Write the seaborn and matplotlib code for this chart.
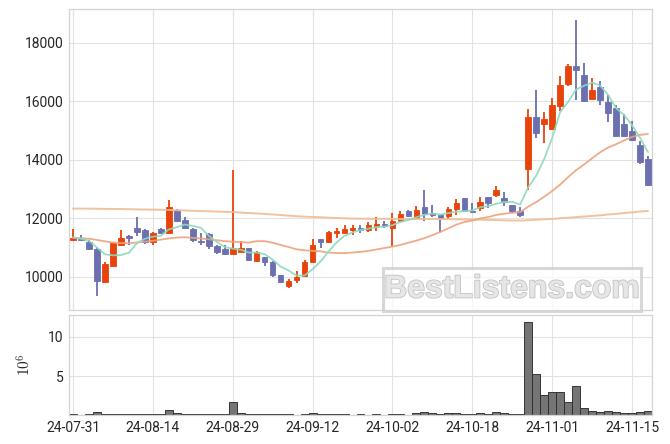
import numpy as np
import pandas as pd
import matplotlib
matplotlib.use("Agg")
import matplotlib.pyplot as plt
import matplotlib.patheffects as pe
from matplotlib.patches import Rectangle
import seaborn as sns

# ---------------- data ----------------
tick_labels = ['24-07-31', '24-08-14', '24-08-29', '24-09-12',
               '24-10-02', '24-10-18', '24-11-01', '24-11-15']

opens = [11250, 11300, 11180, 10960, 9810, 10370, 11080, 11390, 11660, 11600,
         11200, 11630, 11490, 12290, 11940, 11630, 11210, 11470, 11060, 10960,
         10770, 10850, 10980, 10530, 10670, 10510, 10050, 9700, 9890, 10010,
         10490, 11290, 11180, 11490, 11510, 11610, 11680, 11600, 11730, 11790,
         11660, 11920, 12250, 12010, 12400, 12190, 12130, 12070, 12300, 12690,
         12250, 12340, 12730, 12790, 12690, 12450, 12240, 13690, 15470, 15210,
         15040, 15830, 16580, 17190, 16900, 16090, 16500, 15980, 15780, 15240,
         14970, 14490, 14040]

closes = [11330, 11260, 10940, 9870, 10440, 11150, 11320, 11310, 11520, 11200,
          11500, 11480, 12400, 11890, 11660, 11250, 11180, 11040, 10840, 10770,
          10980, 10990, 10560, 10840, 10490, 10050, 9810, 9870, 9980, 10510,
          11100, 11180, 11530, 11550, 11640, 11680, 11590, 11770, 11790, 11740,
          11920, 12160, 12070, 12290, 12160, 12100, 12000, 12330, 12530, 12260,
          12210, 12560, 12510, 12950, 12540, 12250, 12100, 15470, 14920, 15380,
          15860, 16540, 17190, 17070, 16000, 16400, 16040, 15600, 14810, 14810,
          14660, 13910, 13130]

highs = [11650, 11440, 11250, 11000, 10510, 11190, 11600, 11420, 12040, 11640,
         11540, 11660, 12640, 12300, 12040, 11660, 11500, 11500, 11080, 11100,
         13660, 11230, 11000, 10870, 10690, 10530, 10070, 9930, 10200, 10560,
         11290, 11300, 11550, 11670, 11770, 11760, 11780, 11860, 12040, 11900,
         12180, 12240, 12270, 12410, 12980, 12470, 12150, 12390, 12650, 12700,
         12510, 12730, 12740, 13120, 12910, 12470, 12390, 15740, 16370, 15640,
         16120, 16880, 17280, 18780, 17300, 16800, 16700, 16210, 15890, 15570,
         15320, 14640, 14130]

lows = [11230, 11240, 10930, 9330, 9800, 10360, 11040, 11100, 11380, 11120,
        11090, 11460, 11470, 11870, 11620, 11190, 11100, 10950, 10780, 10730,
        10760, 10840, 10550, 10520, 10380, 9980, 9800, 9610, 9790, 10000,
        10480, 10990, 11170, 11330, 11480, 11440, 11500, 11530, 11560, 11670,
        11040, 11900, 12050, 11990, 11920, 12060, 11520, 11980, 12120, 12250,
        12170, 12260, 12350, 12740, 12430, 12170, 12050, 12960, 14730, 14580,
        15020, 15660, 16510, 16050, 15990, 16070, 15890, 15300, 14800, 14790,
        14640, 13840, 13120]

# volume in units of 10^6
volumes = [0.25, 0.12, 0.25, 0.44, 0.25, 0.25, 0.25, 0.25, 0.25, 0.25,
           0.25, 0.25, 0.70, 0.33, 0.25, 0.25, 0.25, 0.25, 0.25, 0.25,
           1.75, 0.33, 0.25, 0.25, 0.25, 0.25, 0.25, 0.25, 0.12, 0.25,
           0.33, 0.25, 0.25, 0.25, 0.25, 0.12, 0.25, 0.12, 0.25, 0.12,
           0.25, 0.25, 0.12, 0.33, 0.44, 0.33, 0.25, 0.33, 0.33, 0.25,
           0.25, 0.33, 0.25, 0.44, 0.33, 0.25, 0.25, 11.9, 5.26, 2.63,
           3.03, 3.03, 1.71, 3.82, 1.05, 0.66, 0.53, 0.66, 0.53, 0.39,
           0.39, 0.53, 0.66]

# moving-average values before a full window of closes is available
ma5_head = [11350, 11300, 11230, 11000]
ma20_head = [11330, 11320, 11300, 11260, 11210, 11170, 11150, 11150, 11170, 11200,
             11230, 11270, 11310, 11340, 11350, 11330, 11310, 11280, 11250]
# long moving average
ma_long = [12330, 12330, 12330, 12325, 12320, 12320, 12315, 12310, 12305, 12300,
           12295, 12290, 12285, 12275, 12265, 12255, 12245, 12240, 12230, 12220,
           12215, 12195, 12180, 12165, 12150, 12130, 12110, 12090, 12070, 12055,
           12045, 12035, 12020, 12010, 12000, 11990, 11985, 11985, 11980, 11980,
           11978, 11976, 11975, 11975, 11975, 11975, 11972, 11970, 11965, 11960,
           11955, 11950, 11945, 11940, 11930, 11925, 11920, 11935, 11950, 11965,
           11975, 12000, 12020, 12040, 12060, 12080, 12100, 12130, 12150, 12180,
           12200, 12230, 12250]

# ---------------- styling ----------------
UP = "#e8430a"
DOWN = "#6b70b0"
MA5_C = "#8ed9c0"
MA20_C = "#eda27c"
MALONG_C = "#f0bc94"
GRID = "#e2e2e2"
SPINE = "#d4d4d4"
TXT = "#262626"

sns.set_theme(style="whitegrid")
plt.rcParams['font.family'] = ['Roboto', 'DejaVu Sans']
plt.rcParams['mathtext.fontset'] = 'cm'

n = len(closes)
idx = np.arange(n)
o = np.array(opens, float)
c = np.array(closes, float)
h = np.array(highs, float)
l = np.array(lows, float)

cs = pd.Series(c)
ma5 = cs.rolling(5).mean().to_numpy()
ma5[:len(ma5_head)] = ma5_head
ma20 = cs.rolling(20).mean().to_numpy()
ma20[:len(ma20_head)] = ma20_head

df = pd.DataFrame({'i': idx, 'ma5': ma5, 'ma20': ma20, 'malong': ma_long,
                   'vol': volumes})

fig = plt.figure(figsize=(6.7, 4.44), dpi=100)
W, H = 670.0, 444.0
x0, x1 = 69, 652
ax = fig.add_axes([x0 / W, 1 - 310 / H, (x1 - x0) / W, (310 - 9) / H])
axv = fig.add_axes([x0 / W, 1 - 415 / H, (x1 - x0) / W, (415 - 315) / H])

# ---- candles ----
up = c >= o
colors = np.where(up, UP, DOWN)
ax.vlines(idx, l, h, colors=colors, linewidth=1.3, zorder=3)
body_bottom = np.minimum(o, c)
body_h = np.maximum(np.abs(c - o), 25)
ax.bar(idx, body_h, bottom=body_bottom, width=0.7, color=colors,
       edgecolor=colors, linewidth=0.6, zorder=4)

# ---- moving averages ----
sns.lineplot(data=df, x='i', y='malong', ax=ax, color=MALONG_C, linewidth=1.4,
             alpha=0.9, zorder=5)
sns.lineplot(data=df, x='i', y='ma20', ax=ax, color=MA20_C, linewidth=1.3,
             alpha=0.9, zorder=5)
sns.lineplot(data=df, x='i', y='ma5', ax=ax, color=MA5_C, linewidth=1.3,
             alpha=0.9, zorder=5)

# ---- volume ----
sns.barplot(data=df, x='i', y='vol', ax=axv, color="#6e6e6e", saturation=1,
            width=1.0, edgecolor="#2e2e2e", linewidth=0.7, alpha=0.95)

tick_pos = list(range(0, n, 10))[:len(tick_labels)]

for a in (ax, axv):
    a.set_xlim(-0.5, n - 0.5)
    a.set_xticks(tick_pos)
    a.grid(True, color=GRID, linewidth=0.8)
    a.set_axisbelow(True)
    a.set_facecolor("white")
    for s in a.spines.values():
        s.set_color(SPINE)
        s.set_linewidth(0.9)
    a.tick_params(length=0, colors=TXT, labelsize=10, pad=4)
    a.set_xlabel("")
    a.set_ylabel("")

ax.set_xticklabels([])
ax.set_ylim(l.min() * 0.95, h.max() * 1.02)
ax.set_yticks([10000, 12000, 14000, 16000, 18000])

axv.set_xticklabels(tick_labels)
axv.set_ylim(min(volumes), max(volumes) * 1.07)
axv.set_yticks([5, 10])
axv.set_ylabel(r'$10^6$', fontsize=11, color=TXT, labelpad=10)

# ---- watermark ----
bx0, bx1, by0, by1 = 383, 641, 268, 311
fig.patches.append(Rectangle((bx0 / W, 1 - by1 / H), (bx1 - bx0) / W, (by1 - by0) / H,
                             transform=fig.transFigure, facecolor="white", alpha=0.75,
                             edgecolor="#cacaca", linewidth=2.2, zorder=10))
fig.text((bx0 + bx1) / 2 / W, 1 - (by0 + by1) / 2 / H, "BestListens.com",
         ha="center", va="center", fontsize=23, fontweight="bold",
         family=["Liberation Sans", "DejaVu Sans"], color="#e6e6e6", zorder=11,
         path_effects=[pe.withStroke(linewidth=1.2, foreground="#c2c2c2")])

fig.savefig("out.png", dpi=100)
